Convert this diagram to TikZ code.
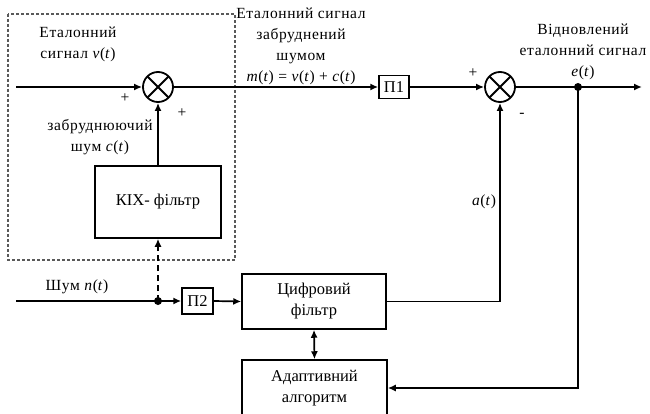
\documentclass[tikz,border=0pt]{standalone}
\usepackage{fontspec}
\setmainfont{Liberation Serif}
\usetikzlibrary{arrows.meta}
\newcommand\vi[1]{\textit{#1}}
\begin{document}
\begin{tikzpicture}[x=1pt,y=-1pt,
  line width=1.7pt,
  arr/.style={-{Latex[length=8pt,width=7pt]}},
  sumnode/.style={circle,draw,line width=1.8pt,minimum size=30pt,inner sep=0pt,
    path picture={\draw[line width=1.8pt] (path picture bounding box.north west) -- (path picture bounding box.south east)
      (path picture bounding box.north east) -- (path picture bounding box.south west);}},
  blk/.style={draw,line width=1.5pt,inner sep=0pt,align=center,font=\fontsize{16.5}{21}\selectfont},
  lbl/.style={align=center,inner sep=0pt,font=\fontsize{15.5}{21}\selectfont\addfontfeature{LetterSpace=4}},
  dotn/.style={circle,fill,inner sep=0pt,minimum size=8pt}]
\useasboundingbox (0,0) rectangle (650,414);
% dashed frame
\draw[line width=1.1pt,gray!70!black,dash pattern=on 3pt off 2pt] (8,14) rectangle (235,260);
% nodes
\coordinate (in1) at (16,87);
\node[sumnode] (s1) at (158,87) {};
\node[blk,minimum width=30pt,minimum height=23pt] (p1) at (394,87) {П1};
\node[sumnode] (s2) at (500,87) {};
\node[dotn] (j1) at (578,87) {};
\coordinate (out) at (642,87);
\node[blk,minimum width=126pt,minimum height=72pt] (kix) at (158,202) {КІХ- фільтр};
\coordinate (in2) at (16,301);
\node[dotn] (j2) at (158,301) {};
\node[blk,minimum width=31pt,minimum height=26pt] (p2) at (197.5,301) {П2};
\node[blk,minimum width=144pt,minimum height=55pt] (df) at (314,301.5) {Цифровий\\фільтр};
\node[blk,minimum width=145pt,minimum height=56pt] (ad) at (314.5,388) {Адаптивний\\алгоритм};
% connectors
\draw[arr] (in1) -- (s1.west);
\draw[arr] (s1.east) -- (p1.west);
\draw[arr] (p1.east) -- (s2.west);
\draw (s2.east) -- (j1.center);
\draw[arr] (j1.center) -- (out);
\draw[arr] (kix.north) -- (s1.south);
\draw[arr,dash pattern=on 6pt off 4pt] (j2.center) -- (kix.south);
\draw (in2) -- (j2.center);
\draw[arr] (j2.center) -- (p2.west);
\draw[arr] (p2.east) -- (df.west);
\draw[arr] (df.east) -| (s2.south);
\draw[arr] (j1.center) |- (ad.east);
\draw[{Latex[length=8pt,width=7pt]}-{Latex[length=8pt,width=7pt]}] (df.south) -- (ad.north);
% labels
\node[lbl] (t1) at (78,44) {Еталонний\\сигнал \vi{ν}(\vi{t})};
\node[lbl] (pl1) at (125,98) {+};
\node[lbl] (pl2) at (182,113) {+};
\node[lbl] (t2) at (100,137) {забруднюючий\\шум \vi{c}(\vi{t})};
\node[lbl] (t3) at (301,46) {Еталонний сигнал\\забруднений\\шумом\\\vi{m}(\vi{t}) = \vi{ν}(\vi{t}) + \vi{c}(\vi{t})};
\node[lbl] (pl3) at (473,73) {+};
\node[lbl] (mn) at (522,115) {-};
\node[lbl] (t4) at (583,52) {Відновлений\\еталонний сигнал\\\vi{e}(\vi{t})};
\node[lbl] (t5) at (484,202) {\vi{a}(\vi{t})};
\node[lbl] (t6) at (77,287) {Шум \vi{n}(\vi{t})};
\end{tikzpicture}
\end{document}
